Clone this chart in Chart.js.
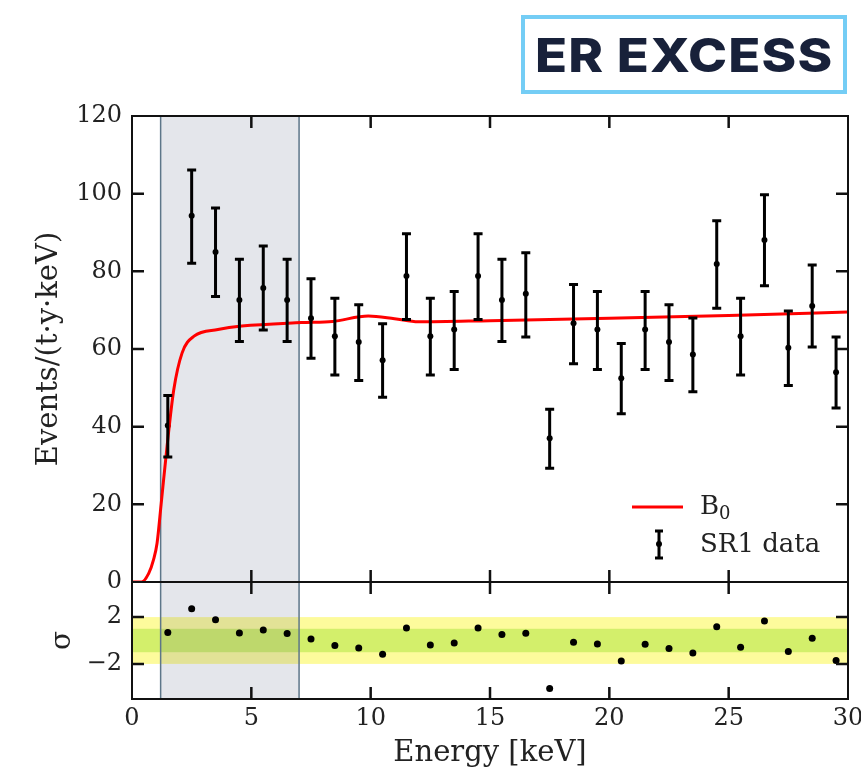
<!DOCTYPE html>
<html>
<head>
<meta charset="utf-8">
<script src="https://cdn.jsdelivr.net/npm/chart.js@4.4.0/dist/chart.umd.min.js"></script>
<style>
  body { margin: 0; background: #fff; }
  #wrap { position: relative; width: 861px; height: 774px; }
  #logo {
    position: absolute; left: 521px; top: 15px; width: 318px; height: 71px;
    border: 4px solid #74cdf5; background: #fff;
    display: flex; align-items: center; justify-content: center;
  }
  #logo span {
    font-family: Inter, "DejaVu Sans", sans-serif; font-weight: 800; font-size: 47px;
    color: #18213a; letter-spacing: 1px; display: inline-block; transform: scaleX(1.12);
  }
  canvas { position: absolute; left: 0; top: 0; }
</style>
</head>
<body>
<div id="wrap">
  <canvas id="Chart" width="861" height="774"></canvas>
  <div id="logo"><span>ER EXCESS</span></div>
</div>
<script>
// bin centres [keV]
var energy = [1.5, 2.5, 3.5, 4.5, 5.5, 6.5, 7.5, 8.5, 9.5, 10.5, 11.5, 12.5, 13.5, 14.5, 15.5,
  16.5, 17.5, 18.5, 19.5, 20.5, 21.5, 22.5, 23.5, 24.5, 25.5, 26.5, 27.5, 28.5, 29.5];
// SR1 rate, events/(t.y.keV)
var rate = [40.3, 94.3, 85.0, 72.6, 75.7, 72.6, 67.9, 63.3, 61.8, 57.1, 78.8, 63.3, 65.0, 78.8, 72.6,
  74.2, 37.0, 66.6, 65.0, 52.5, 65.0, 61.8, 58.6, 81.9, 63.3, 88.1, 60.3, 71.1, 54.0];
var rateHi = [48.0, 106.1, 96.3, 83.1, 86.5, 83.1, 78.1, 73.1, 71.4, 66.5, 89.7, 73.1, 74.8, 89.7, 83.1,
  84.8, 44.5, 76.6, 74.8, 61.4, 74.8, 71.4, 68.0, 93.0, 73.1, 99.7, 69.8, 81.6, 63.1];
var rateLo = [32.2, 82.1, 73.5, 61.9, 64.9, 61.9, 57.6, 53.3, 51.9, 47.6, 67.6, 53.3, 54.7, 67.6, 61.9,
  63.1, 29.3, 56.2, 54.7, 43.3, 54.7, 51.9, 49.0, 70.5, 53.3, 76.3, 50.6, 60.5, 44.8];
// residuals in sigma
var sigma = [0.68, 2.71, 1.78, 0.65, 0.89, 0.59, 0.13, -0.42, -0.65, -1.17, 1.06, -0.39, -0.22, 1.06, 0.51,
  0.63, -4.1, -0.16, -0.30, -1.75, -0.33, -0.68, -1.06, 1.17, -0.57, 1.67, -0.94, 0.19, -1.72];
// B0 background model
var b0Energy = [0, 0.4, 0.7, 0.9, 1.05, 1.22, 1.47, 1.75, 2.1, 2.6, 3.6, 4.6, 7.1, 8.4, 9.9, 11.0, 12.0, 15, 20, 25, 30];
var b0Rate = [0, 0, 2.2, 5.7, 10, 20, 35, 49.5, 59, 63.3, 65, 65.9, 66.8, 67.1, 68.5, 67.8, 67.0, 67.3, 67.9, 68.6, 69.5];
// shaded region [keV] and sigma bands
var roi = [1.2, 7.0];
var band1 = [-1, 1];
var band2 = [-2, 2];
var xTicks = [0, 5, 10, 15, 20, 25, 30];
var rateTicks = [0, 20, 40, 60, 80, 100, 120];
var sigmaTicks = [-2, 2];

var serif = "'DejaVu Serif', serif";
var TICK = 12;

var decor = {
  id: 'decor',
  beforeDatasetsDraw: function(chart) {
    var ctx = chart.ctx, a = chart.chartArea;
    var x = chart.scales.x, r = chart.scales.ySig;
    ctx.save();
    // sigma bands
    ctx.fillStyle = '#fdfb9c';
    ctx.fillRect(a.left, r.getPixelForValue(band2[1]), a.right - a.left, r.getPixelForValue(band2[0]) - r.getPixelForValue(band2[1]));
    ctx.fillStyle = '#d3ef6b';
    ctx.fillRect(a.left, r.getPixelForValue(band1[1]), a.right - a.left, r.getPixelForValue(band1[0]) - r.getPixelForValue(band1[1]));
    // energy region
    var x0 = x.getPixelForValue(roi[0]), x1 = x.getPixelForValue(roi[1]);
    ctx.fillStyle = 'rgba(70, 85, 120, 0.145)';
    ctx.fillRect(x0, a.top, x1 - x0, a.bottom - a.top);
    ctx.strokeStyle = '#5d7689';
    ctx.lineWidth = 1.5;
    ctx.beginPath();
    ctx.moveTo(x0, a.top); ctx.lineTo(x0, a.bottom);
    ctx.moveTo(x1, a.top); ctx.lineTo(x1, a.bottom);
    ctx.stroke();
    ctx.restore();
  },
  afterDatasetsDraw: function(chart) {
    var ctx = chart.ctx, a = chart.chartArea;
    var x = chart.scales.x, y = chart.scales.y, r = chart.scales.ySig;
    ctx.save();
    // error bars
    ctx.strokeStyle = '#000';
    ctx.lineWidth = 3;
    for (var i = 0; i < energy.length; i++) {
      var px = x.getPixelForValue(energy[i]);
      var yh = y.getPixelForValue(rateHi[i]), yl = y.getPixelForValue(rateLo[i]);
      ctx.beginPath();
      ctx.moveTo(px, yh); ctx.lineTo(px, yl);
      ctx.moveTo(px - 4.5, yh); ctx.lineTo(px + 4.5, yh);
      ctx.moveTo(px - 4.5, yl); ctx.lineTo(px + 4.5, yl);
      ctx.stroke();
    }
    // frame
    var ySplit = y.getPixelForValue(0);
    ctx.strokeStyle = '#111';
    ctx.lineWidth = 2;
    ctx.strokeRect(a.left, a.top, a.right - a.left, a.bottom - a.top);
    ctx.beginPath();
    ctx.moveTo(a.left, ySplit); ctx.lineTo(a.right, ySplit);
    ctx.stroke();
    // inward ticks
    ctx.lineWidth = 2.5;
    ctx.beginPath();
    xTicks.slice(1, -1).forEach(function(v) {
      var px = x.getPixelForValue(v);
      ctx.moveTo(px, a.top); ctx.lineTo(px, a.top + TICK);
      ctx.moveTo(px, ySplit - TICK); ctx.lineTo(px, ySplit + TICK);
      ctx.moveTo(px, a.bottom); ctx.lineTo(px, a.bottom - TICK);
    });
    rateTicks.slice(1, -1).forEach(function(v) {
      var py = y.getPixelForValue(v);
      ctx.moveTo(a.left, py); ctx.lineTo(a.left + TICK, py);
      ctx.moveTo(a.right, py); ctx.lineTo(a.right - TICK, py);
    });
    sigmaTicks.forEach(function(v) {
      var py = r.getPixelForValue(v);
      ctx.moveTo(a.left, py); ctx.lineTo(a.left + TICK, py);
      ctx.moveTo(a.right, py); ctx.lineTo(a.right - TICK, py);
    });
    ctx.stroke();
    // legend
    var lx = a.right - 216, ly = y.getPixelForValue(19.3);
    ctx.strokeStyle = '#ff0000';
    ctx.lineWidth = 3;
    ctx.beginPath(); ctx.moveTo(lx, ly); ctx.lineTo(lx + 51, ly); ctx.stroke();
    ctx.fillStyle = '#222';
    ctx.textBaseline = 'middle';
    ctx.font = '26px ' + serif;
    ctx.fillText('B', lx + 68, ly);
    var bw = ctx.measureText('B').width;
    ctx.font = '18px ' + serif;
    ctx.fillText('0', lx + 68 + bw, ly + 7);
    var ey = ly + 38;
    ctx.strokeStyle = '#000';
    ctx.beginPath();
    ctx.moveTo(lx + 27, ey - 14); ctx.lineTo(lx + 27, ey + 13);
    ctx.moveTo(lx + 23, ey - 14); ctx.lineTo(lx + 31, ey - 14);
    ctx.moveTo(lx + 23, ey + 13); ctx.lineTo(lx + 31, ey + 13);
    ctx.stroke();
    ctx.fillStyle = '#000';
    ctx.beginPath(); ctx.arc(lx + 27, ey - 1, 3, 0, Math.PI * 2); ctx.fill();
    ctx.fillStyle = '#222';
    ctx.font = '26px ' + serif;
    ctx.fillText('SR1 data', lx + 68, ey);
    ctx.restore();
  }
};

var ctx = document.getElementById('Chart');
var chart = new Chart(ctx, {
  type: 'scatter',
  data: {
    datasets: [{
      type: 'line',
      label: 'B0',
      data: b0Energy.map(function(e, i) { return { x: e, y: b0Rate[i] }; }),
      yAxisID: 'y',
      borderColor: '#ff0000',
      borderWidth: 3,
      pointRadius: 0,
      cubicInterpolationMode: 'monotone',
      fill: false
    }, {
      label: 'SR1 data',
      data: energy.map(function(e, i) { return { x: e, y: rate[i] }; }),
      yAxisID: 'y',
      backgroundColor: '#000',
      borderWidth: 0,
      pointRadius: 3
    }, {
      label: 'residual',
      data: energy.map(function(e, i) { return { x: e, y: sigma[i] }; }),
      yAxisID: 'ySig',
      backgroundColor: '#000',
      borderWidth: 0,
      pointRadius: 3.5
    }]
  },
  options: {
    responsive: false,
    animation: false,
    layout: { autoPadding: false, padding: { left: 32, right: 13, top: 116, bottom: 0 } },
    plugins: { legend: { display: false }, tooltip: { enabled: false } },
    scales: {
      x: {
        type: 'linear', position: 'bottom', min: 0, max: 30,
        grid: { display: false, drawTicks: false, tickLength: 0 },
        border: { display: false },
        afterBuildTicks: function(s) { s.ticks = xTicks.map(function(v) { return { value: v }; }); },
        afterFit: function(s) { s.height = 75; s.paddingLeft = 0; s.paddingRight = 0; },
        ticks: { color: '#222', font: { family: serif, size: 24 }, padding: 5, maxRotation: 0 },
        title: { display: true, text: 'Energy [keV]', color: '#222', font: { family: serif, size: 29 }, padding: { top: 0, bottom: 3 } }
      },
      ySig: {
        axis: 'y', type: 'linear', position: 'left', stack: 'v', stackWeight: 117, min: -5, max: 5,
        grid: { display: false, drawTicks: false, tickLength: 0 },
        border: { display: false },
        afterBuildTicks: function(s) { s.ticks = sigmaTicks.map(function(v) { return { value: v }; }); },
        afterFit: function(s) { s.width = 100; },
        ticks: {
          color: '#222', font: { family: serif, size: 24 }, padding: 10,
          callback: function(v) { return v < 0 ? '\u2212' + Math.abs(v) : String(v); }
        },
        title: { display: true, text: 'σ', color: '#222', font: { family: serif, size: 28 }, padding: { top: 14, bottom: 0 } }
      },
      y: {
        type: 'linear', position: 'left', stack: 'v', stackWeight: 466, min: 0, max: 120,
        grid: { display: false, drawTicks: false, tickLength: 0 },
        border: { display: false },
        afterBuildTicks: function(s) { s.ticks = rateTicks.map(function(v) { return { value: v }; }); },
        afterFit: function(s) { s.width = 100; },
        ticks: { color: '#222', font: { family: serif, size: 24 }, padding: 10 },
        title: { display: true, text: 'Events/(t·y·keV)', color: '#222', font: { family: serif, size: 29 }, padding: { top: 0, bottom: 0 } }
      }
    }
  },
  plugins: [decor]
});
</script>
</body>
</html>
